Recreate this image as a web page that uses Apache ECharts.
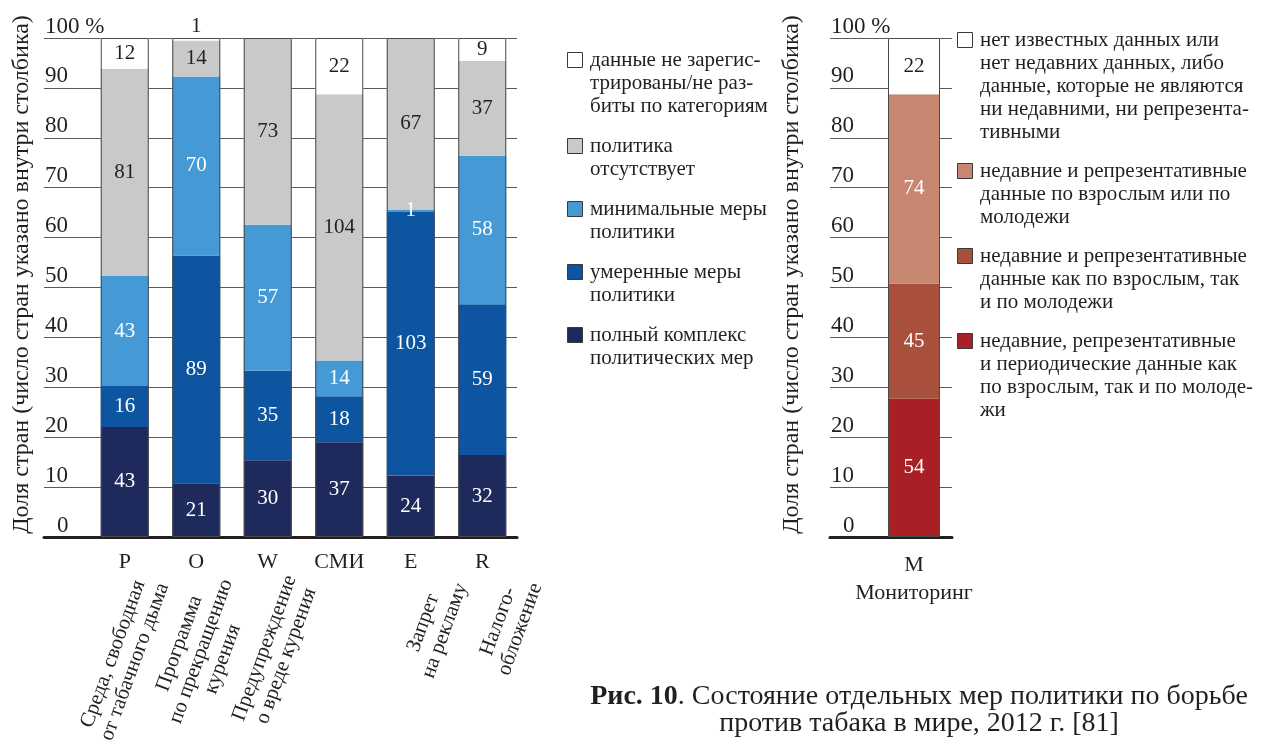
<!DOCTYPE html>
<html><head><meta charset="utf-8">
<script src="https://cdn.jsdelivr.net/npm/echarts@6/dist/echarts.min.js"></script>
<style>html,body{margin:0;padding:0;background:#fff}#c{width:1262px;height:740px}</style>
</head><body><div id="c"></div>
<script>
// ---------- data ----------
const categories = ['P', 'O', 'W', 'СМИ', 'E', 'R'];
const categoryNotes = ['Среда, свободная\nот табачного дыма', 'Программа\nпо прекращению\nкурения', 'Предупреждение\nо вреде курения', '', 'Запрет\nна рекламу', 'Налого-\nобложение'];
// counts of countries (bottom -> top)
const fullPolicy     = [43, 21, 30, 37, 24, 32];
const moderatePolicy = [16, 89, 35, 18, 103, 59];
const minimalPolicy  = [43, 70, 57, 14, 1, 58];
const noPolicy       = [81, 14, 73, 104, 67, 37];
const noData         = [12, 1, 0, 22, 0, 9];
const policyNames = ['полный комплекс политических мер', 'умеренные меры политики', 'минимальные меры политики', 'политика отсутствует', 'данные не зарегистрированы/не разбиты по категориям'];
const policyLegendText = ['полный комплекс\nполитических мер', 'умеренные меры\nполитики', 'минимальные меры\nполитики', 'политика\nотсутствует', 'данные не зарегис-\nтрированы/не раз-\nбиты по категориям'];

const monitorCategory = ['M'];
const monitorNote = 'Мониторинг';
const monitorPeriodic = [54];
const monitorBoth     = [45];
const monitorEither   = [74];
const monitorNone     = [22];
const monitorNames = ['недавние, репрезентативные и периодические данные как по взрослым, так и по молодежи', 'недавние и репрезентативные данные как по взрослым, так и по молодежи', 'недавние и репрезентативные данные по взрослым или по молодежи', 'нет известных данных или нет недавних данных, либо данные, которые не являются ни недавними, ни репрезентативными'];
const monitorLegendText = ['недавние, репрезентативные\nи периодические данные как\nпо взрослым, так и по молоде-\nжи', 'недавние и репрезентативные\nданные как по взрослым, так\nи по молодежи', 'недавние и репрезентативные\nданные по взрослым или по\nмолодежи', 'нет известных данных или\nнет недавних данных, либо\nданные, которые не являются\nни недавними, ни репрезента-\nтивными'];

const yTickLabels = ['0', '10', '20', '30', '40', '50', '60', '70', '80', '90', '100 %'];
const axisTitle = 'Доля стран (число стран указано внутри столбика)';
const captionBold = 'Рис. 10';
const captionRest = '. Состояние отдельных мер политики по борьбе\nпротив табака в мире, 2012 г. [81]';

// ---------- style ----------
const FONT = 'Liberation Serif';
const TEXT = '#231f20';
const policyColors = ['#1f2a5c', '#0d55a1', '#4599d4', '#c9c9c9', '#ffffff'];
const policyLabelColors = ['#ffffff', '#ffffff', '#ffffff', TEXT, TEXT];
const monitorColors = ['#a81f26', '#a9503c', '#c6866f', '#ffffff'];
const monitorLabelColors = ['#ffffff', '#ffffff', '#ffffff', TEXT];
const LH = 23;

function totalsOf(list) {
  return list[0].map((_, i) => list.reduce((s, arr) => s + arr[i], 0));
}

function stackSeries(name, counts, totals, color, labelColor, axisIdx, barWidth, stack, isTop) {
  return {
    name, type: 'bar', stack, xAxisIndex: axisIdx, yAxisIndex: axisIdx, barWidth, barGap: '-100%',
    data: counts.map((c, i) => {
      const item = { value: c / totals[i] * 100 };
      if (isTop && c > 0 && c / totals[i] < 0.015) item.label = { position: 'top', distance: 1 };
      return item;
    }),
    itemStyle: { color: color },
    label: {
      show: true, position: 'inside', color: labelColor, fontFamily: FONT, fontSize: 21,
      formatter: p => counts[p.dataIndex] ? String(counts[p.dataIndex]) : ''
    },
    emphasis: { disabled: true }
  };
}
function outlineSeries(totals, axisIdx, barWidth) {
  return {
    name: 'всего', type: 'bar', xAxisIndex: axisIdx, yAxisIndex: axisIdx, barWidth, barGap: '-100%',
    data: totals.map(t => t / t * 100), silent: true, z: 3,
    itemStyle: { color: 'rgba(0,0,0,0)', borderColor: '#4a4a4a', borderWidth: 1 },
    label: { show: false }, emphasis: { disabled: true }
  };
}

const policyCounts = [fullPolicy, moderatePolicy, minimalPolicy, noPolicy, noData];
const policyTotals = totalsOf(policyCounts);
const monitorCounts = [monitorPeriodic, monitorBoth, monitorEither, monitorNone];
const monitorTotals = totalsOf(monitorCounts);

const series = [];
policyCounts.forEach((arr, k) => series.push(stackSeries(policyNames[k], arr, policyTotals, policyColors[k], policyLabelColors[k], 1, 48, 'policy', k === policyCounts.length - 1)));
series.push(outlineSeries(policyTotals, 1, 48));
monitorCounts.forEach((arr, k) => series.push(stackSeries(monitorNames[k], arr, monitorTotals, monitorColors[k], monitorLabelColors[k], 4, 52, 'monitor', k === monitorCounts.length - 1)));
series.push(outlineSeries(monitorTotals, 4, 52));

function visibleY(gridIndex, nameGap) {
  return {
    type: 'value', gridIndex, min: 0, max: 100, interval: 10,
    axisLine: { show: false }, axisTick: { show: false },
    splitLine: { show: true, lineStyle: { color: '#5a5a5a', width: 1 } },
    axisLabel: {
      inside: true, margin: 1, verticalAlign: 'bottom', color: TEXT, fontFamily: FONT, fontSize: 23,
      formatter: v => { const t = yTickLabels[Math.round(v / 10)]; return v === 0 ? '{z|' + t + '}' : t; },
      rich: { z: { padding: [0, 0, 0, 12], fontFamily: FONT, fontSize: 23, color: TEXT } }
    },
    name: axisTitle, nameLocation: 'middle', nameGap,
    nameTextStyle: { fontFamily: FONT, fontSize: 24, color: TEXT, padding: [0, 0, 0, 26] }
  };
}
function hiddenY(gridIndex) { return { type: 'value', gridIndex, min: 0, max: 100, show: false }; }
function baseX(gridIndex) {
  return {
    type: 'value', gridIndex, min: 0, max: 1,
    axisLine: { show: true, onZero: false, lineStyle: { color: TEXT, width: 3 } },
    axisTick: { show: false }, axisLabel: { show: false }, splitLine: { show: false }
  };
}
// key boxes: square aligned with the first text line of each entry
function keyGraphic(texts, colors, x, top, gap) {
  const els = [];
  let y = top;
  for (let j = texts.length - 1; j >= 0; j--) {
    const lines = texts[j].split('\n').length;
    els.push({
      type: 'rect', x: x + 0.5, y: y + 0.5, shape: { x: 0, y: 0, width: 15, height: 15 },
      style: { fill: colors[j], stroke: '#3a3a3a', lineWidth: 1 }, silent: true
    });
    els.push({
      type: 'text', x: x + 23, y: y + 8 - LH / 2, silent: true,
      style: { text: texts[j], font: '21px "' + FONT + '"', fill: TEXT, lineHeight: LH, verticalAlign: 'top', align: 'left' }
    });
    y += lines * LH + gap;
  }
  return els;
}

const option = {
  animation: false,
  backgroundColor: '#ffffff',
  title: {
    text: '{b|' + captionBold + '}' + captionRest,
    left: 919, top: 683, textAlign: 'center', padding: 0,
    textStyle: {
      fontFamily: FONT, fontSize: 28, fontWeight: 'normal', color: TEXT, lineHeight: 27,
      rich: { b: { fontFamily: FONT, fontSize: 28, fontWeight: 'bold', color: TEXT, lineHeight: 27 } }
    }
  },
  graphic: keyGraphic(policyLegendText, policyColors, 567, 52, 17).concat(keyGraphic(monitorLegendText, monitorColors, 957, 32, 16)),
  grid: [
    { left: 44, top: 38, width: 473, height: 499, outerBoundsMode: 'none' },
    { left: 89, top: 38, width: 429, height: 499, outerBoundsMode: 'none' },
    { left: 115, top: 38, width: 448, height: 499, outerBoundsMode: 'none' },
    { left: 830, top: 38, width: 122, height: 499, outerBoundsMode: 'none' },
    { left: 876, top: 38, width: 76, height: 499, outerBoundsMode: 'none' }
  ],
  xAxis: [
    baseX(0),
    {
      type: 'category', gridIndex: 1, data: categories,
      axisLine: { show: false }, axisTick: { show: false },
      axisLabel: { margin: 14, interval: 0, color: TEXT, fontFamily: FONT, fontSize: 22 }
    },
    {
      type: 'category', gridIndex: 2, data: categoryNotes,
      axisLine: { show: false }, axisTick: { show: false },
      axisLabel: {
        rotate: 70, margin: 43, interval: 0, color: TEXT, fontFamily: FONT, fontSize: 21,
        formatter: s => s ? s.split('\n').map(l => '{c|' + l + '}').join('\n') : '',
        rich: { c: { align: 'center', fontFamily: FONT, fontSize: 21, lineHeight: LH, color: TEXT } }
      }
    },
    baseX(3),
    {
      type: 'category', gridIndex: 4, data: monitorCategory,
      axisLine: { show: false }, axisTick: { show: false },
      axisLabel: {
        margin: 14, interval: 0, color: TEXT, fontFamily: FONT, fontSize: 22, lineHeight: 28,
        formatter: v => v + '\n' + monitorNote
      }
    }
  ],
  yAxis: [visibleY(0, 10), hiddenY(1), hiddenY(2), visibleY(3, 26), hiddenY(4)],
  series
};

const chart = echarts.init(document.getElementById('c'), null, { renderer: 'canvas' });
chart.setOption(option);
</script>
</body></html>
